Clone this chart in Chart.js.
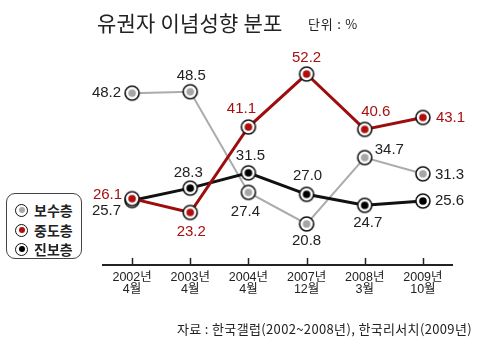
<!DOCTYPE html>
<html><head><meta charset="utf-8">
<script src="https://cdn.jsdelivr.net/npm/chart.js@4/dist/chart.umd.min.js"></script>
<style>
html,body{margin:0;padding:0;background:#fff;}
#wrap{position:relative;width:480px;height:341px;overflow:hidden;font-family:"Liberation Sans",Arial,"Noto Sans CJK KR",sans-serif;color:#222;}
canvas{position:absolute;left:0;top:0;}
.abs{position:absolute;white-space:nowrap;line-height:1;}
#title{left:97px;top:12px;font-size:21px;letter-spacing:0.2px;font-family:"Noto Sans CJK KR",sans-serif;}
#unit{left:308px;top:17px;font-size:13px;letter-spacing:0.8px;font-family:"Noto Sans CJK KR",sans-serif;}
#source{right:8px;top:322px;font-size:13px;letter-spacing:0.35px;font-family:"Noto Sans CJK KR",sans-serif;}
#legend{position:absolute;left:6px;top:193px;width:74px;height:64px;border:1px solid #444;border-radius:9px;background:#fff;}
.li{position:absolute;left:8px;height:16px;display:flex;align-items:center;font-size:14px;font-weight:bold;font-family:"Noto Sans CJK KR",sans-serif;}
.mk{width:11px;height:11px;border:1.5px solid #111;border-radius:50%;background:#fff;position:relative;margin-right:6px;}
.mk i{position:absolute;left:2.5px;top:2.5px;width:6px;height:6px;border-radius:50%;}
</style></head>
<body><div id="wrap">
<canvas id="c" width="480" height="341"></canvas>
<div id="title" class="abs">유권자 이념성향 분포</div>
<div id="unit" class="abs">단위 : %</div>
<div id="legend">
 <div class="li" style="top:8px"><span class="mk"><i style="background:#a8a8a8"></i></span>보수층</div>
 <div class="li" style="top:28px"><span class="mk"><i style="background:#b00d0d"></i></span>중도층</div>
 <div class="li" style="top:47px"><span class="mk"><i style="background:#000"></i></span>진보층</div>
</div>
<div id="source" class="abs">자료 : 한국갤럽(2002~2008년), 한국리서치(2009년)</div>
</div>
<script>
const categories = [["2002년","4월"],["2003년","4월"],["2004년","4월"],["2007년","12월"],["2008년","3월"],["2009년","10월"]];
const seriesNames = ["보수층","중도층","진보층"];
const conservative = [48.2,48.5,27.4,20.8,34.7,31.3];
const moderate = [26.1,23.2,41.1,52.2,40.6,43.1];
const progressive = [25.7,28.3,31.5,27.0,24.7,25.6];

// label placement (style only): [dx, dy, align]
const labelPlace = [
  [[-11,0,'right'],[1,-16,'center'],[-3,19,'center'],[0,17,'center'],[10,-8,'left'],[12,1,'left']],
  [[-10,-4,'right'],[1,19,'center'],[-7,-18,'center'],[0,-16,'center'],[11,-18,'center'],[13,0,'left']],
  [[-11,10,'right'],[-2,-15,'center'],[2,-17,'center'],[1,-18,'center'],[3,18,'center'],[12,0,'left']]
];
const labelColors = ['#222','#a80f0f','#222'];

function marker(inner){
  const c=document.createElement('canvas');c.width=18;c.height=18;
  const g=c.getContext('2d');
  g.beginPath();g.arc(9,9,7,0,Math.PI*2);g.fillStyle='#fff';g.fill();
  g.lineWidth=1.6;g.strokeStyle='#111';g.stroke();
  g.beginPath();g.arc(9,9,3.8,0,Math.PI*2);g.fillStyle=inner;g.fill();
  return c;
}

const tickMarks={id:'tickMarks',afterDraw(chart){
  const x=chart.scales.x,ctx=chart.ctx,b=chart.chartArea.bottom;
  ctx.save();ctx.strokeStyle='#222';ctx.lineWidth=1.5;
  categories.forEach((c,i)=>{const px=Math.round(x.getPixelForValue(i))+0.5;
    ctx.beginPath();ctx.moveTo(px,b-7);ctx.lineTo(px,b);ctx.stroke();});
  ctx.restore();
}};
const valueLabels={id:'valueLabels',afterDatasetsDraw(chart){
  const ctx=chart.ctx;ctx.save();
  ctx.font="15px 'Liberation Sans', Arial, sans-serif";ctx.textBaseline='middle';
  chart.data.datasets.forEach((ds,di)=>{
    const meta=chart.getDatasetMeta(di);
    ctx.fillStyle=labelColors[di];
    meta.data.forEach((pt,i)=>{
      const p=labelPlace[di][i];
      ctx.textAlign=p[2];
      ctx.fillText(ds.data[i].toFixed(1),pt.x+p[0],pt.y+p[1]);
    });
  });
  ctx.restore();
}};

new Chart(document.getElementById('c'),{
  type:'line',
  data:{labels:categories,datasets:[
    {label:seriesNames[0],data:conservative,borderColor:'#ababab',borderWidth:2,pointStyle:marker('#a6a6a6'),order:2,tension:0},
    {label:seriesNames[1],data:moderate,borderColor:'#9e0d0d',borderWidth:3,pointStyle:marker('#b00d0d'),order:0,tension:0},
    {label:seriesNames[2],data:progressive,borderColor:'#111',borderWidth:3,pointStyle:marker('#000'),order:1,tension:0}
  ]},
  options:{
    responsive:false,animation:false,events:[],
    layout:{padding:{left:103,right:28,top:60,bottom:0}},
    plugins:{legend:{display:false},tooltip:{enabled:false},title:{display:false}},
    scales:{
      x:{offset:true,grid:{display:false,drawTicks:false},border:{display:true,color:'#222',width:2},
         ticks:{padding:6,color:'#222',font:{size:12.5,family:"'Liberation Sans', Arial, 'Noto Sans CJK KR', sans-serif",lineHeight:1.0},maxRotation:0,autoSkip:false},
         afterFit(a){a.height=76;}},
      y:{display:false,min:12.2,max:55.14}
    }
  },
  plugins:[tickMarks,valueLabels]
});
</script>
</body></html>
